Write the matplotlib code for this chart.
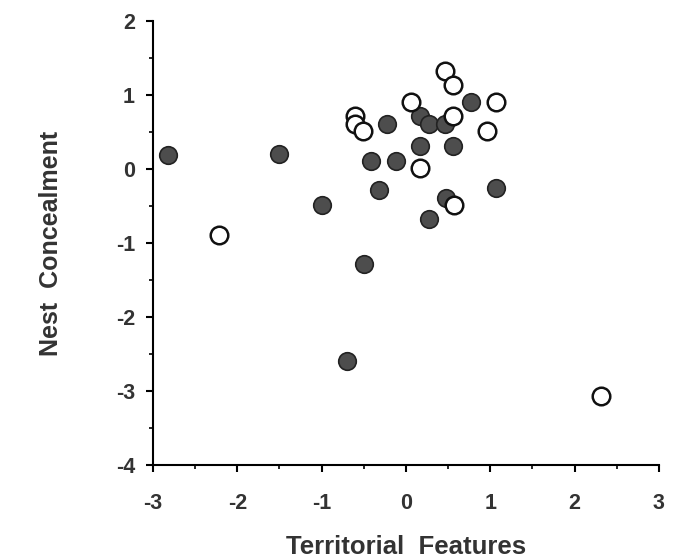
import numpy as np
import matplotlib
matplotlib.use("Agg")
import matplotlib.pyplot as plt
from matplotlib.ticker import MultipleLocator

plt.rcParams['font.family'] = ['Liberation Sans', 'DejaVu Sans']
plt.rcParams['font.weight'] = 'bold'

# filled circles
filled_x = [-2.82, -1.50, -1.00, -0.70, -0.50, -0.42, -0.32, -0.23, -0.12,
            0.17, 0.27, 0.17, 0.27, 0.46, 0.47, 0.56, 0.77, 1.07]
filled_y = [0.19, 0.20, -0.49, -2.59, -1.28, 0.11, -0.28, 0.61, 0.11,
            0.72, 0.61, 0.31, -0.68, 0.61, -0.39, 0.31, 0.91, -0.26]

# open circles
open_x = [-2.22, -0.61, -0.61, -0.51, 0.06, 0.17, 0.46, 0.56, 0.56, 0.57, 0.96, 1.07, 2.31]
open_y = [-0.89, 0.72, 0.61, 0.51, 0.91, 0.01, 1.32, 1.13, 0.72, -0.49, 0.52, 0.91, -3.07]

xticks = [-3, -2, -1, 0, 1, 2, 3]
xticklabels = ['-3', '-2', '-1', '0', '1', '2', '3']
yticks = [2, 1, 0, -1, -2, -3, -4]
yticklabels = ['2', '1', '0', '-1', '-2', '-3', '-4']

fig = plt.figure(figsize=(6.87, 5.58), dpi=100)
ax = fig.add_axes([0.2227, 0.1667, 0.7365, 0.7957])

ax.scatter(filled_x, filled_y, s=160, c='#4d4d4d', edgecolors='#222222',
           linewidths=1.2, zorder=3)
ax.scatter(open_x, open_y, s=160, c='white', edgecolors='#111111',
           linewidths=1.8, zorder=4)

ax.set_xlim(-3, 3)
ax.set_ylim(-4, 2)
ax.set_xticks(xticks)
ax.set_xticklabels(xticklabels)
ax.set_yticks(yticks)
ax.set_yticklabels(yticklabels)
ax.xaxis.set_minor_locator(MultipleLocator(0.5))
ax.yaxis.set_minor_locator(MultipleLocator(0.5))
ax.tick_params(axis='both', which='major', labelsize=15.5, length=5, width=1.5,
               labelcolor='#333333')
ax.tick_params(axis='y', which='major', pad=8)
ax.tick_params(axis='x', which='major', pad=15)
ax.tick_params(axis='both', which='minor', length=3, width=1.2)
for lbl in ax.get_xticklabels() + ax.get_yticklabels():
    lbl.set_fontweight('bold')

ax.spines['top'].set_visible(False)
ax.spines['right'].set_visible(False)
ax.spines['left'].set_linewidth(1.5)
ax.spines['bottom'].set_linewidth(1.5)

ax.set_xlabel("Territorial  Features", fontsize=18.5, fontweight='bold', color='#333333', labelpad=15)
ax.set_ylabel("Nest  Concealment", fontsize=18, fontweight='bold', color='#333333', labelpad=38)

fig.savefig("out.png", dpi=100)
